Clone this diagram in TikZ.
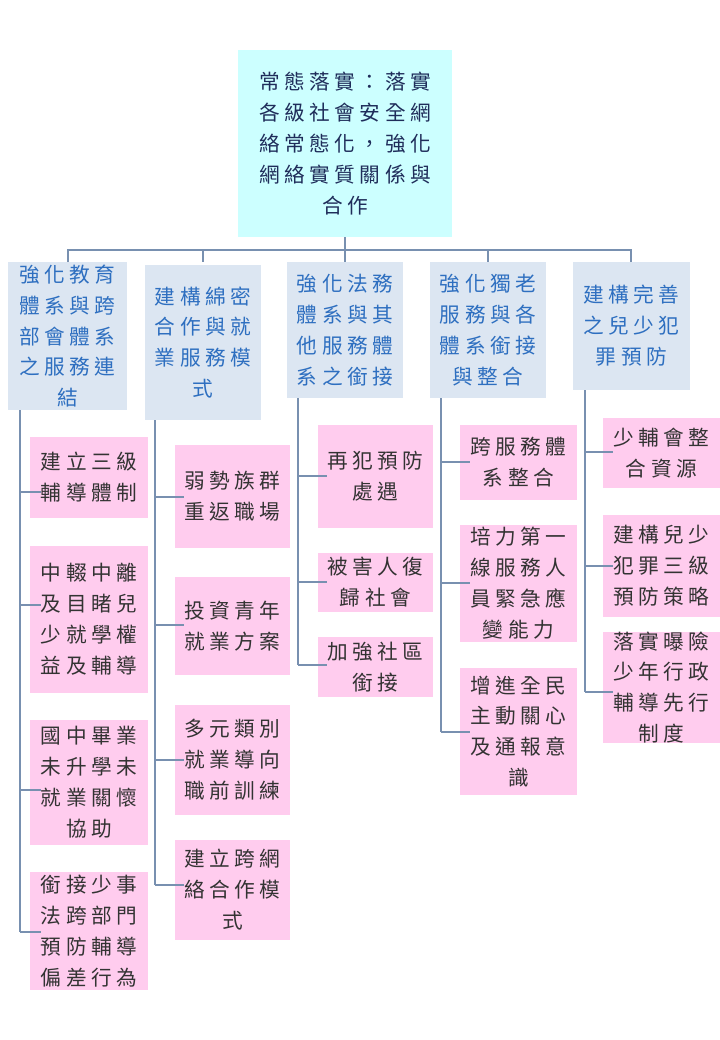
\documentclass[tikz,border=0pt]{standalone}
\usepackage{fontspec}
\setmainfont{Noto Sans CJK TC}[LetterSpace=22]
\usetikzlibrary{calc}
\definecolor{rootc}{HTML}{CCFFFF}
\definecolor{lvc}{HTML}{DCE6F2}
\definecolor{pk}{HTML}{FFCCEE}
\definecolor{lvt}{HTML}{2E6FC0}
\definecolor{rt}{HTML}{1F2D5A}
\definecolor{ln}{HTML}{7890B0}
\newcommand\bx[7]{\fill[#6] (#2,#3) rectangle (#4,#5);
  \node[txt,text=#6t] (#1) at ($(#2,#3)!0.5!(#4,#5)$) {#7};}
\begin{document}
\begin{tikzpicture}[x=0.75pt,y=-0.75pt,
  txt/.style={align=center,font=\fontsize{15.5}{23.2}\selectfont,inner sep=0pt},
  rootct/.style={}, lnk/.style={draw=ln,line width=0.8pt}]
\colorlet{rootct}{rt}\colorlet{lvct}{lvt}\colorlet{pkt}{black!80}
\useasboundingbox (0,0) rectangle (720,1040);
\fill[white] (0,0) rectangle (720,1040);
\bx{r}{238}{50}{452}{237}{rootc}{常態落實：落實\\各級社會安全網\\絡常態化，強化\\網絡實質關係與\\合作}
\bx{a}{8}{262}{127}{410}{lvc}{強化教育\\體系與跨\\部會體系\\之服務連\\結}
\bx{b}{145}{265}{261}{420}{lvc}{建構綿密\\合作與就\\業服務模\\式}
\bx{c}{287}{262}{403}{398}{lvc}{強化法務\\體系與其\\他服務體\\系之銜接}
\bx{d}{430}{262}{546}{398}{lvc}{強化獨老\\服務與各\\體系銜接\\與整合}
\bx{e}{573}{262}{690}{390}{lvc}{建構完善\\之兒少犯\\罪預防}
\draw[lnk] (r.south |- 0,237) -- (345,250);
\draw[lnk] (68,262) |- (631,250) -- (631,262);
\foreach \x in {203,345,488} \draw[lnk] (\x,250) -- (\x,262);
% col a
\bx{a1}{30}{437}{148}{518}{pk}{建立三級\\輔導體制}
\bx{a2}{30}{546}{148}{693}{pk}{中輟中離\\及目睹兒\\少就學權\\益及輔導}
\bx{a3}{30}{720}{148}{845}{pk}{國中畢業\\未升學未\\就業關懷\\協助}
\bx{a4}{30}{872}{148}{990}{pk}{銜接少事\\法跨部門\\預防輔導\\偏差行為}
\draw[lnk] (20,410) -- (20,932);
\foreach \n/\y in {a1/492,a2/605,a3/790,a4/932} \draw[lnk] (20,\y) -- (\n.west |- 0,\y);
% col b
\bx{b1}{175}{445}{290}{548}{pk}{弱勢族群\\重返職場}
\bx{b2}{175}{577}{290}{675}{pk}{投資青年\\就業方案}
\bx{b3}{175}{705}{290}{815}{pk}{多元類別\\就業導向\\職前訓練}
\bx{b4}{175}{840}{290}{940}{pk}{建立跨網\\絡合作模\\式}
\draw[lnk] (155,420) -- (155,885);
\foreach \n/\y in {b1/497,b2/625,b3/760,b4/885} \draw[lnk] (155,\y) -- (\n.west |- 0,\y);
% col c
\bx{c1}{318}{425}{433}{528}{pk}{再犯預防\\處遇}
\bx{c2}{318}{553}{433}{612}{pk}{被害人復\\歸社會}
\bx{c3}{318}{637}{433}{697}{pk}{加強社區\\銜接}
\draw[lnk] (298,398) -- (298,665);
\foreach \n/\y in {c1/476,c2/582,c3/665} \draw[lnk] (298,\y) -- (\n.west |- 0,\y);
% col d
\bx{d1}{460}{425}{577}{500}{pk}{跨服務體\\系整合}
\bx{d2}{460}{525}{577}{642}{pk}{培力第一\\線服務人\\員緊急應\\變能力}
\bx{d3}{460}{668}{577}{795}{pk}{增進全民\\主動關心\\及通報意\\識}
\draw[lnk] (441,398) -- (441,732);
\foreach \n/\y in {d1/462,d2/583,d3/732} \draw[lnk] (441,\y) -- (\n.west |- 0,\y);
% col e
\bx{e1}{603}{418}{720}{488}{pk}{少輔會整\\合資源}
\bx{e2}{603}{515}{720}{617}{pk}{建構兒少\\犯罪三級\\預防策略}
\bx{e3}{603}{632}{720}{743}{pk}{落實曝險\\少年行政\\輔導先行\\制度}
\draw[lnk] (585,390) -- (585,692);
\foreach \n/\y in {e1/452,e2/566,e3/692} \draw[lnk] (585,\y) -- (\n.west |- 0,\y);
\end{tikzpicture}
\end{document}
